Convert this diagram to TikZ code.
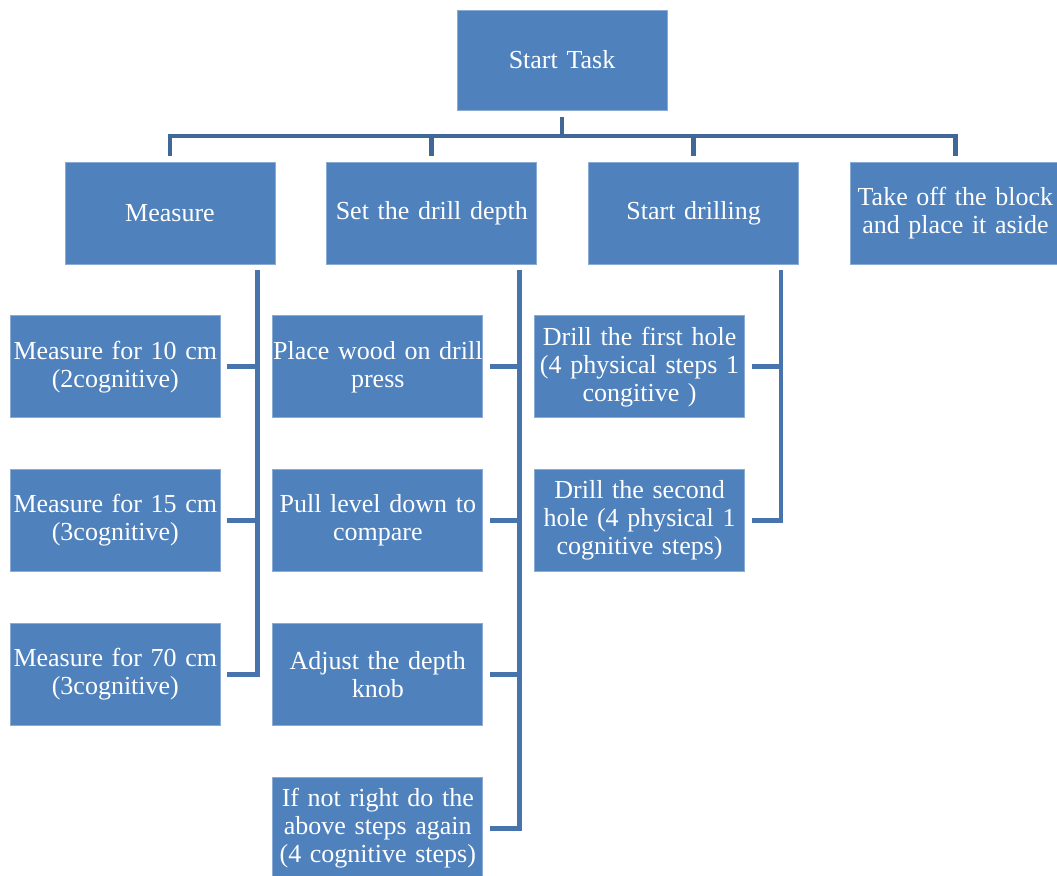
\documentclass[tikz,border=0pt]{standalone}
\usepackage{fontspec}
\setmainfont{Liberation Serif}
\usetikzlibrary{positioning}
\definecolor{cBox} {HTML}{4F81BD}
\definecolor{cEdge}{HTML}{8AABD6}
\definecolor{cBar} {HTML}{3F6898}
\definecolor{cLink}{HTML}{4874AE}

\begin{document}
\begin{tikzpicture}[x=0.75pt, y=-0.75pt,
        task/.style = {draw=cEdge, line width=0.6pt, fill=cBox, text=white, minimum width=157.5pt, minimum height=76.5pt, text width=157.5pt, inner sep=0pt, align=center, font=\fontsize{19.5}{21}\selectfont},
        bar/.style  = {draw=cBar, line width=3.6pt},
        link/.style = {draw=cLink, line width=3.6pt} ]
      \useasboundingbox (0,0) rectangle (1057,875);
      \node[task, minimum height=75pt] (st) at (562,60) {Start Task};
      % first level
      \node[task] (m) at (170,213) {Measure};
      \node[task, right=38.25pt of m] (sd) {Set the drill depth};
      \node[task, right=38.25pt of sd] (sdr) {Start drilling};
      \node[task, right=38.25pt of sdr] (to) {Take off the block\\and place it aside};
      % measuring
      \node[task, below=38.25pt of m, xshift=-41pt] (m1) {Measure for 10 cm\\(2cognitive)};
      \node[task, below=38.25pt of m1] (m2) {Measure for 15 cm\\(3cognitive)};
      \node[task, below=38.25pt of m2] (m3) {Measure for 70 cm\\(3cognitive)};
      % drill depth
      \node[task, below=38.25pt of sd, xshift=-40.5pt] (d1) {Place wood on drill\\press};
      \node[task, below=38.25pt of d1] (d2) {Pull level down to\\compare};
      \node[task, below=38.25pt of d2] (d3) {Adjust the depth\\knob};
      \node[task, below=38.25pt of d3] (d4) {If not right do the\\above steps again\\(4 cognitive steps)};
      % drilling
      \node[task, below=38.25pt of sdr, xshift=-40.5pt] (r1) {Drill the first hole\\(4 physical steps 1\\congitive )};
      \node[task, below=38.25pt of r1] (r2) {Drill the second\\hole (4 physical 1\\cognitive steps)};

      % top level connectors
      \coordinate (hub) at (562,136);
      \draw[bar] ([yshift=-5pt]st.south) -- (hub);
      \draw[bar, line cap=rect] (hub -| m.north) -- (hub -| to.north);
      \foreach \n in {m, sd, sdr, to}
        \draw[bar, shorten >=4.5pt] (hub -| \n.north) -- (\n.north);

      % brackets under each step
      \foreach \p/\a/\z in {m/m1/m3, sd/d1/d4, sdr/r1/r2} {
        \coordinate (\p top) at ([xshift=-13.5pt, yshift=-4.5pt]\p.south east);
        \draw[link] (\p top) |- ([xshift=5pt]\z.east);
      }
      \foreach \p/\c in {m/m1, m/m2, sd/d1, sd/d2, sd/d3, sdr/r1}
        \draw[link] ([xshift=5pt]\c.east) -- (\c.east -| \p top);
\end{tikzpicture}
\end{document}
